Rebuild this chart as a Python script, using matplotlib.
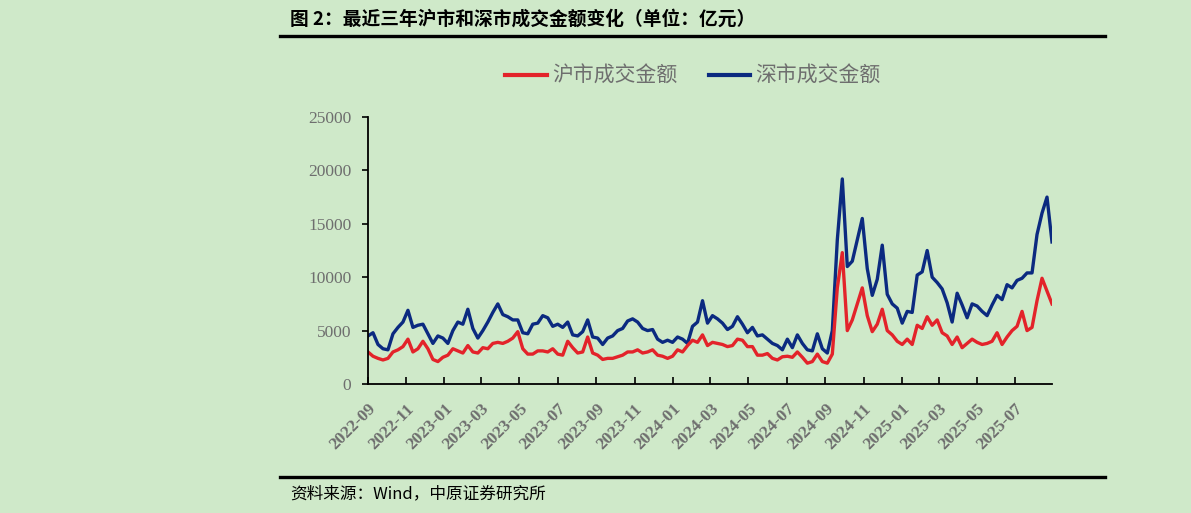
import matplotlib.pyplot as plt
import matplotlib.dates as mdates
import pandas as pd
from matplotlib.lines import Line2D

plt.rcParams['font.family'] = ['Noto Sans CJK SC', 'DejaVu Sans']

sh_values = [
    3000, 2600, 2400, 2250, 2400, 3000, 3200, 3500, 4200, 3000,
    3300, 4000, 3300, 2300, 2100, 2500, 2700, 3300, 3100, 2900,
    3600, 3000, 2900, 3400, 3300, 3800, 3900, 3800, 4000, 4300,
    4900, 3300, 2800, 2800, 3100,
    3100, 3000, 3300, 2800, 2700, 4000, 3400, 2900, 3000, 4400,
    2900, 2700, 2300, 2400, 2400, 2550, 2700, 3000, 3000, 3200,
    2900, 3000, 3200, 2700, 2600, 2400, 2600, 3200, 3000, 3600,
    4100, 3900, 4600, 3600,
    3900, 3800, 3700, 3500, 3600, 4200, 4100, 3500, 3500, 2700,
    2700, 2850, 2400, 2250, 2550, 2600, 2500, 3000, 2500, 1950,
    2100, 2800, 2100, 1950,
    2800, 9000, 12300, 5000, 6000, 7500, 9000, 6400, 4900, 5600,
    7000, 5000, 4600, 4000, 3700, 4200, 3700, 5500, 5200, 6300,
    5500,
    6000, 4800, 4500, 3700, 4400, 3400, 3800, 4200, 3900, 3700,
    3800, 4000, 4800, 3700, 4400, 5000, 5400, 6800, 5000, 5300,
    7800, 9900, 8700, 7500,
]
sz_values = [
    4500, 4800, 3700, 3300, 3200, 4700, 5300, 5800, 6900, 5300,
    5500, 5600, 4700, 3800, 4500, 4300, 3800, 5000, 5800, 5600,
    7000, 5200, 4300, 5000, 5800, 6700, 7500, 6500, 6300, 6000,
    6000, 4800, 4700, 5600, 5700,
    6400, 6200, 5400, 5600, 5300, 5800, 4600, 4500, 4900, 6000,
    4400, 4300, 3700, 4300, 4500, 5000, 5200, 5900, 6100, 5800,
    5200, 5000, 5100, 4200, 3900, 4100, 3900, 4400, 4200, 3800,
    5400, 5800, 7800, 5700,
    6400, 6100, 5700, 5100, 5400, 6300, 5600, 4800, 5300, 4500,
    4600, 4200, 3800, 3600, 3200, 4200, 3400, 4600, 3800, 3200,
    3100, 4700, 3300, 2900,
    5000, 13500, 19200, 11000, 11500, 13500, 15500, 10800, 8300, 9800,
    13000, 8400, 7500, 7100, 5700, 6800, 6700, 10200, 10500, 12500,
    10000,
    9500, 8900, 7600, 5800, 8500, 7400, 6200, 7500, 7300, 6800,
    6400, 7400, 8300, 7900, 9300, 9000, 9700, 9900, 10400, 10400,
    14000, 16000, 17500, 13300,
]
dates = pd.date_range('2022-09-01', '2025-08-29', periods=len(sh_values))

series_names = ['沪市成交金额', '深市成交金额']
red = '#e3232a'
blue = '#0b2a80'
gray = '#6e6e6e'
bg = '#cfe9c9'

fig = plt.figure(figsize=(11.91, 5.13), dpi=100, facecolor=bg)
ax = fig.add_axes([368 / 1191, 1 - 384 / 513, (1052 - 368) / 1191, (384 - 117) / 513])
ax.set_facecolor(bg)

ax.plot(dates, sz_values, color=blue, lw=2.4, solid_joinstyle='round')
ax.plot(dates, sh_values, color=red, lw=2.4, solid_joinstyle='round')

ax.set_xlim(dates[0], dates[-1])
ax.set_ylim(0, 25000)
ax.set_yticks(range(0, 25001, 5000))

ax.xaxis.set_major_locator(mdates.MonthLocator(bymonth=[1, 3, 5, 7, 9, 11]))
ax.xaxis.set_major_formatter(mdates.DateFormatter('%Y-%m'))

for s in ['top', 'right']:
    ax.spines[s].set_visible(False)
for s in ['left', 'bottom']:
    ax.spines[s].set_linewidth(1.3)
    ax.spines[s].set_color('black')

ax.tick_params(axis='x', direction='in', length=5, width=1.2, pad=12)
ax.tick_params(axis='y', direction='out', length=4, width=1.2, pad=8)

for lab in ax.get_yticklabels():
    lab.set_fontfamily('Liberation Serif')
    lab.set_fontsize(12.5)
    lab.set_color(gray)
for lab in ax.get_xticklabels():
    lab.set_fontfamily('Liberation Serif')
    lab.set_fontsize(12.5)
    lab.set_fontweight('bold')
    lab.set_color(gray)
    lab.set_rotation(45)
    lab.set_ha('right')
    lab.set_va('top')
    lab.set_rotation_mode('anchor')

# legend
handles = [Line2D([], [], color=red, lw=3), Line2D([], [], color=blue, lw=3)]
fig.legend(handles, series_names, loc='center', bbox_to_anchor=(693 / 1191, 1 - 76 / 513),
           ncol=2, frameon=False, fontsize=15, labelcolor=gray,
           handlelength=2.0, handletextpad=0.25, columnspacing=1.5)

# title, rules and source
fig.text(290 / 1191, 1 - 19 / 513, '图 2：最近三年沪市和深市成交金额变化（单位：亿元）',
         fontsize=13.5, fontweight='bold', ha='left', va='center', color='black')
fig.add_artist(Line2D([280 / 1191, 1105 / 1191], [1 - 36 / 513] * 2, color='black', lw=2.4))
fig.add_artist(Line2D([280 / 1191, 1105 / 1191], [1 - 477 / 513] * 2, color='black', lw=2.4))
fig.text(290 / 1191, 1 - 494 / 513, '资料来源：Wind，中原证券研究所',
         fontsize=12, ha='left', va='center', color='black')

fig.savefig('out.png', dpi=100, facecolor=bg)
